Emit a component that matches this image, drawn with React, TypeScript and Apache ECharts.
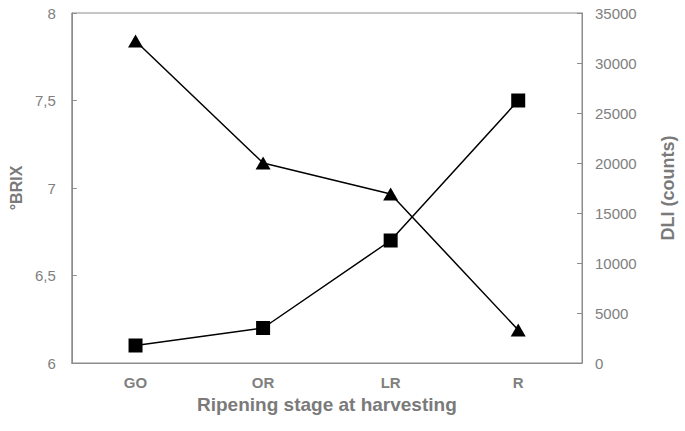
import React, { useEffect, useRef } from "react";
import * as echarts from "echarts";

const categories = ["GO", "OR", "LR", "R"];
const brixValues = [6.1, 6.2, 6.7, 7.5];
const dliValues = [32200, 20000, 16900, 3300];

const labelColor = "#808080";
const nameColor = "#7a7a7a";
const axisColor = "#8c8c8c";
const fontFamily = "Liberation Sans, Arial, sans-serif";

export default function App() {
  const ref = useRef<HTMLDivElement>(null);
  useEffect(() => {
    if (!ref.current) return;
    const chart = echarts.init(ref.current, undefined, { renderer: "svg" });
    chart.setOption({
      animation: false,
      backgroundColor: "#ffffff",
      textStyle: { fontFamily },
      grid: {
        left: 67,
        right: 99,
        top: 13,
        bottom: 68,
        show: true,
        borderColor: axisColor,
        borderWidth: 1,
      },
      xAxis: {
        type: "category",
        data: categories,
        boundaryGap: true,
        axisLine: { lineStyle: { color: axisColor, width: 1 } },
        axisTick: { show: false },
        axisLabel: { color: labelColor, fontSize: 15, fontWeight: "bold", margin: 12, fontFamily },
        name: "Ripening stage at harvesting",
        nameLocation: "middle",
        nameGap: 32,
        nameTextStyle: { color: nameColor, fontSize: 19, fontWeight: "bold", fontFamily },
      },
      yAxis: [
        {
          type: "value",
          min: 6,
          max: 8,
          interval: 0.5,
          position: "left",
          axisLine: { show: true, lineStyle: { color: axisColor, width: 1 } },
          axisTick: { show: true, inside: true, length: 5, lineStyle: { color: axisColor } },
          splitLine: { show: false },
          axisLabel: {
            color: labelColor,
            fontSize: 15,
            margin: 16,
            fontFamily,
            formatter: (v: number) => String(v).replace(".", ","),
          },
          name: "°BRIX",
          nameLocation: "middle",
          nameGap: 46,
          nameTextStyle: { color: nameColor, fontSize: 16, fontWeight: "bold", fontFamily },
        },
        {
          type: "value",
          min: 0,
          max: 35000,
          interval: 5000,
          position: "right",
          axisLine: { show: true, lineStyle: { color: axisColor, width: 1 } },
          axisTick: { show: true, inside: true, length: 5, lineStyle: { color: axisColor } },
          splitLine: { show: false },
          axisLabel: {
            color: labelColor,
            fontSize: 15,
            margin: 13,
            fontFamily,
            formatter: (v: number) => String(v),
          },
          name: "DLI (counts)",
          nameLocation: "middle",
          nameGap: 77,
          nameTextStyle: { color: nameColor, fontSize: 18, fontWeight: "bold", fontFamily },
        },
      ],
      series: [
        {
          name: "°BRIX",
          type: "line",
          yAxisIndex: 0,
          data: brixValues,
          symbol: "rect",
          symbolSize: 14,
          lineStyle: { color: "#000000", width: 1.5 },
          itemStyle: { color: "#000000" },
        },
        {
          name: "DLI",
          type: "line",
          yAxisIndex: 1,
          data: dliValues,
          symbol: "triangle",
          symbolSize: [15, 13],
          lineStyle: { color: "#000000", width: 1.5 },
          itemStyle: { color: "#000000" },
        },
      ],
    });
    return () => chart.dispose();
  }, []);
  return (
    <div
      ref={ref}
      style={{ position: "fixed", left: 0, top: 0, width: 685, height: 431, background: "#fff" }}
    />
  );
}
